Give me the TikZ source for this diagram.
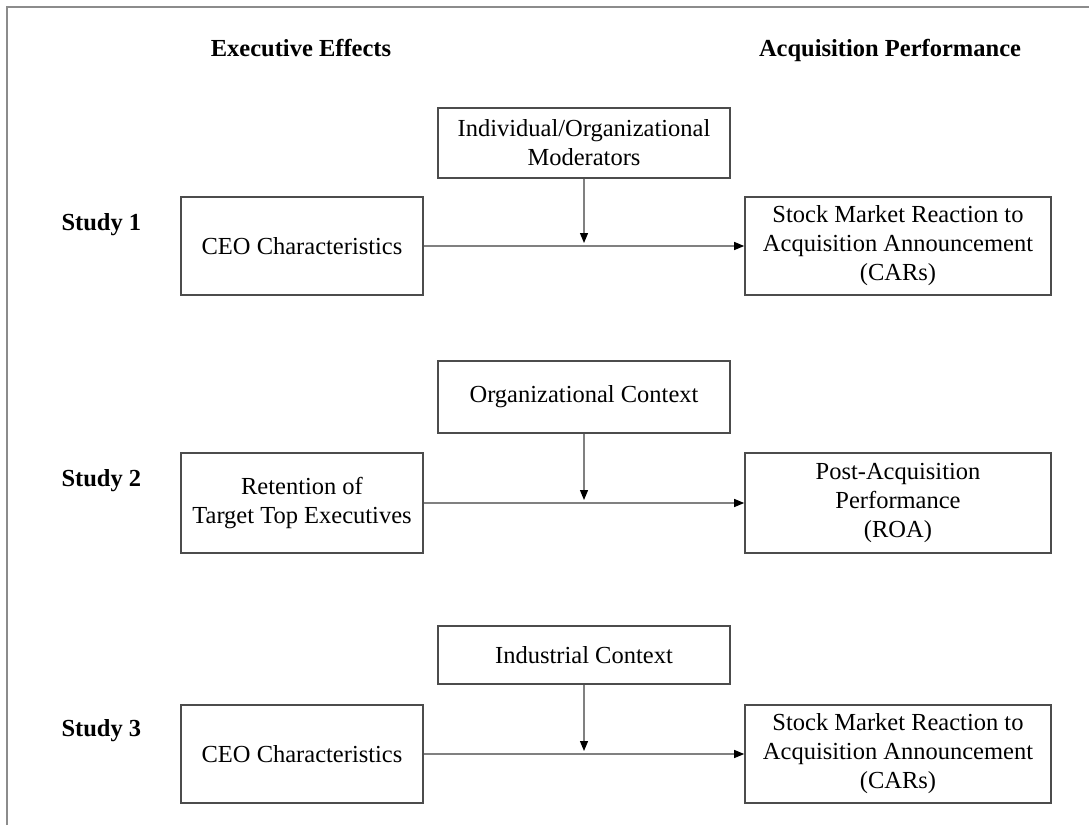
\documentclass[tikz,border=0pt]{standalone}
\usepackage{fontspec}
\setmainfont{Liberation Serif}
\usepackage{tikz}
\usetikzlibrary{arrows.meta}

\begin{document}
\begin{tikzpicture}[x=1pt,y=-1pt,
	font=\fontsize{24.5}{29}\selectfont,
	box/.style={draw=black!70, line width=1.6pt, align=center, inner sep=0pt, minimum height=98pt},
	causebox/.style={box, minimum width=242pt},
	effectbox/.style={box, minimum width=306pt},
	modbox/.style={box, minimum width=292pt},
	head/.style={font=\fontsize{24.5}{29}\selectfont\bfseries},
	link/.style={draw=black!50, line width=1.2pt, -{Triangle[length=10pt,width=8pt,color=black]}}]
\useasboundingbox (0,0) rectangle (1089,825);
\draw [black!45, line width=1.5pt] (7,825) -- (7,7) -- (1089,7);

\node [head, anchor=base] (hcause) at (301,56) {Executive Effects};
\node [head, anchor=base] (heffect) at (890,56) {Acquisition Performance};

\node [head, anchor=base west] (study1) at (58,230) {Study 1};
\node [head, anchor=base west] (study2) at (58,486) {Study 2};
\node [head, anchor=base west] (study3) at (58,736) {Study 3};

\node [causebox] (cause1) at (302,246) {CEO Characteristics};
\node [effectbox] (effect1) at (898,246) {Stock Market Reaction to\\Acquisition Announcement\\(CARs)};
\node [modbox, minimum height=70pt] (mod1) at (584,143) {Individual/Organizational\\Moderators};

\node [causebox, minimum height=100pt] (cause2) at (302,503) {Retention of\\Target Top Executives};
\node [effectbox, minimum height=100pt] (effect2) at (898,503) {Post-Acquisition\\Performance\\(ROA)};
\node [modbox, minimum height=72pt] (mod2) at (584,397) {Organizational Context};

\node [causebox] (cause3) at (302,754) {CEO Characteristics};
\node [effectbox] (effect3) at (898,754) {Stock Market Reaction to\\Acquisition Announcement\\(CARs)};
\node [modbox, minimum height=58pt] (mod3) at (584,655) {Industrial Context};

\foreach \i in {1,2,3} {
	\draw [link] (cause\i) -- (effect\i);
	\draw [link, shorten >=3pt] (mod\i) -- (mod\i |- cause\i);
}
\end{tikzpicture}
\end{document}
